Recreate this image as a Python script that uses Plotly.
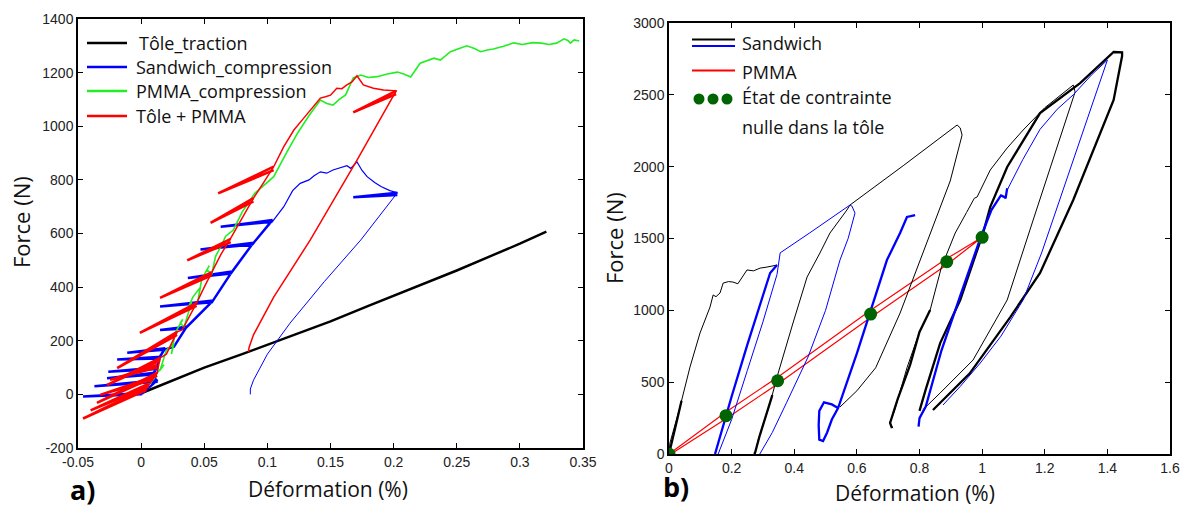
import plotly.graph_objects as go

W, H = 1186, 507

# ---------------- Panel a) data ----------------
tole_x = [0.002, 0.02, 0.05, 0.08, 0.10, 0.13, 0.15, 0.18, 0.20, 0.23, 0.25, 0.28, 0.30, 0.321]
tole_y = [8, 42, 100, 150, 185, 238, 272, 330, 368, 425, 462, 522, 562, 607]

pmma_x = [0.002, 0.006, 0.004, 0.008, 0.012, 0.009, 0.0127, 0.018, 0.015, 0.02, 0.026, 0.024, 0.027,
          0.033, 0.031, 0.034, 0.040, 0.038, 0.041, 0.047, 0.045, 0.048, 0.054, 0.052, 0.056, 0.059,
          0.063, 0.067, 0.073, 0.08, 0.09, 0.105, 0.115, 0.124, 0.133, 0.142, 0.147, 0.152, 0.157,
          0.162, 0.168, 0.174, 0.18, 0.187, 0.195, 0.203, 0.208, 0.2135, 0.221, 0.227, 0.232, 0.237,
          0.245, 0.252, 0.258, 0.264, 0.269, 0.275, 0.279, 0.287, 0.295, 0.302, 0.31, 0.317, 0.323,
          0.329, 0.335, 0.338, 0.340, 0.343, 0.347]
pmma_y = [9, 40, 30, 45, 70, 62, 80, 110, 90, 165, 190, 150, 230,
          280, 266, 250, 345, 330, 363, 400, 350, 430, 480, 464, 450, 515,
          550, 590, 613, 680, 750, 812, 900, 975, 1040, 1098, 1085, 1079, 1100,
          1117, 1180, 1191, 1182, 1185, 1195, 1202, 1195, 1184, 1235, 1245, 1254, 1247,
          1278, 1290, 1300, 1290, 1278, 1285, 1288, 1298, 1311, 1305, 1312, 1310, 1305,
          1310, 1326, 1320, 1310, 1322, 1318]

# Sandwich: unload/reload saw-teeth, then main curve, then unloading
sand_saw_x = [0.002, -0.046, 0.000, 0.013, -0.037, 0.012, 0.010, -0.027, 0.009, 0.013, -0.026, 0.012,
              0.015, -0.019, 0.014, 0.019, -0.011, 0.018, 0.026, 0.036, 0.015, 0.035, 0.057, 0.015,
              0.056, 0.072, 0.037, 0.071, 0.089, 0.047, 0.088, 0.104, 0.063, 0.104]
sand_saw_y = [5, -8, 0, 53, 30, 47, 80, 60, 74, 100, 84, 94,
              140, 130, 134, 172, 155, 166, 178, 252, 240, 246, 350, 328,
              343, 458, 434, 451, 566, 540, 559, 650, 625, 644]
sand_main_x = [0.104, 0.113, 0.120, 0.126, 0.133, 0.137, 0.142, 0.147, 0.152, 0.157, 0.163, 0.166,
               0.171, 0.175, 0.179, 0.185, 0.190, 0.197, 0.203]
sand_main_y = [644, 700, 760, 787, 800, 815, 830, 825, 837, 845, 853, 843,
               867, 835, 812, 790, 775, 760, 752]
sand_wedge_x = [0.203, 0.168, 0.203]
sand_wedge_y = [752, 735, 744]
sand_unload_x = [0.203, 0.174, 0.145, 0.118, 0.100, 0.089, 0.0865, 0.0865]
sand_unload_y = [752, 576, 420, 266, 150, 53, 20, 0]

# Tôle + PMMA: wedges (right end -> left end -> back)
red_wedge_right_x = [0.004, 0.006, 0.0127, 0.0095, 0.0127, 0.015, 0.0285, 0.044, 0.056, 0.071, 0.089, 0.105, 0.202]
red_wedge_right_y = [26, 40, 80, 65, 110, 136, 233, 341, 456, 580, 732, 849, 1132]
red_wedge_left_x = [-0.046, -0.040, -0.035, -0.0325, -0.0246, -0.027, -0.019, -0.001, 0.015, 0.0365, 0.055, 0.061, 0.168]
red_wedge_left_y = [-90, -60, -32, -2, 54, 35, 98, 229, 360, 500, 640, 750, 1052]
red_wedge_back_y = [16, 30, 70, 55, 100, 126, 222, 330, 444, 568, 720, 836, 1120]

red_main_x = [0.003, 0.005, 0.0127, 0.015, 0.02, 0.0285, 0.0325, 0.044, 0.05, 0.056, 0.063, 0.071, 0.08,
              0.089, 0.097, 0.105, 0.113, 0.121, 0.127, 0.132, 0.137, 0.142, 0.146, 0.15, 0.155, 0.159,
              0.163, 0.167, 0.171, 0.176, 0.184, 0.192, 0.202, 0.171, 0.134, 0.105, 0.089, 0.0865, 0.0855, 0.085]
red_main_y = [10, 28, 80, 136, 150, 233, 240, 341, 400, 456, 520, 583, 660,
              732, 790, 849, 924, 986, 1020, 1049, 1075, 1105, 1110, 1116, 1142, 1140,
              1154, 1165, 1188, 1154, 1142, 1135, 1132, 874, 576, 363, 222, 192, 175, 158]

# ---------------- Panel b) data ----------------
b1_x = [0.0, 0.003, 0.035, 0.067, 0.099, 0.131, 0.141, 0.150, 0.163, 0.173, 0.190, 0.204, 0.220, 0.235,
        0.249, 0.270, 0.291, 0.310, 0.330, 0.345]
b1_y = [0, 77, 327, 605, 842, 1023, 1107, 1095, 1121, 1190, 1200, 1197, 1185, 1230,
        1281, 1275, 1294, 1300, 1310, 1315]
b2_x = [0.275, 0.285, 0.323, 0.345, 0.396, 0.441, 0.482, 0.514, 0.568, 0.578, 0.75, 0.92, 0.93, 0.936,
        0.898, 0.81, 0.738, 0.66, 0.600, 0.546]
b2_y = [0, 100, 355, 536, 912, 1232, 1399, 1538, 1698, 1733, 2010, 2290, 2270, 2220,
        1900, 1400, 981, 600, 440, 327]
b3_x = [0.715, 0.705, 0.720, 0.760, 0.800, 0.834, 0.870, 0.914, 0.950, 0.975, 0.984, 1.026, 1.080, 1.131,
        1.200, 1.281, 1.291, 1.297, 1.230, 1.163, 1.080, 0.971, 0.866, 0.810]
b3_y = [180, 216, 300, 600, 850, 1002, 1300, 1538, 1680, 1780, 1789, 1977, 2130, 2255,
        2410, 2554, 2568, 2520, 2080, 1629, 1072, 654, 425, 306]

bt1_x = [0.0, 0.012, 0.025, 0.040]
bt1_y = [0, 120, 230, 370]
bt2_x = [0.272, 0.275, 0.290, 0.310, 0.330]
bt2_y = [0, 10, 130, 270, 410]
bt3_x = [0.712, 0.706, 0.730, 0.770, 0.800, 0.834]
bt3_y = [180, 216, 380, 620, 850, 1002]
bt4_x = [0.800, 0.820, 0.866, 0.930, 1.003, 1.026, 1.080, 1.185, 1.313, 1.400, 1.420, 1.447, 1.447,
         1.420, 1.291, 1.185, 1.090, 0.960, 0.843]
bt4_y = [300, 450, 772, 1072, 1538, 1720, 1998, 2373, 2582, 2756, 2798, 2795, 2770,
         2464, 1768, 1260, 953, 560, 306]

u1_x = [0.157, 0.200, 0.250, 0.300, 0.345, 0.350, 0.355, 0.450, 0.578, 0.584, 0.594, 0.572, 0.546,
        0.500, 0.444, 0.376, 0.330, 0.290]
u1_y = [0, 240, 580, 920, 1250, 1330, 1400, 1540, 1733, 1726, 1677, 1500, 1350,
        1000, 675, 360, 150, 0]
u2_x = [1.080, 1.130, 1.185, 1.240, 1.291, 1.350, 1.400, 1.350, 1.300, 1.249, 1.190, 1.131, 1.060,
        0.994, 0.930, 0.875]
u2_y = [1837, 2050, 2260, 2400, 2500, 2640, 2742, 2420, 2095, 1768, 1400, 1072, 820,
        633, 470, 341]

ut1_x = [0.147, 0.160, 0.200, 0.250, 0.300, 0.323, 0.345]
ut1_y = [0, 100, 400, 760, 1100, 1260, 1315]
ut2_x = [0.540, 0.520, 0.495, 0.480, 0.478, 0.480, 0.492, 0.505, 0.520, 0.540, 0.600, 0.642, 0.696,
         0.738, 0.760, 0.772, 0.786]
ut2_y = [320, 345, 360, 300, 200, 100, 90, 150, 240, 320, 700, 981, 1350,
         1538, 1650, 1655, 1663]
ut3_x = [0.797, 0.800, 0.820, 0.870, 0.930, 0.994, 1.030, 1.060, 1.070, 1.075, 1.080]
ut3_y = [190, 250, 330, 720, 1100, 1500, 1700, 1800, 1790, 1780, 1850]

pr_x = [0.0, 0.182, 0.347, 0.644, 0.887, 1.0, 0.887, 0.644, 0.347, 0.182, 0.01]
pr_y = [0, 292, 535, 1000, 1360, 1508, 1318, 950, 488, 245, 5]

zero_x = [0.0, 0.182, 0.347, 0.644, 0.887, 1.0]
zero_y = [0, 267, 510, 974, 1338, 1508]

# tick labels
a_xticks = [-0.05, 0, 0.05, 0.1, 0.15, 0.2, 0.25, 0.3, 0.35]
a_xtext = ["-0.05", "0", "0.05", "0.1", "0.15", "0.2", "0.25", "0.3", "0.35"]
a_yticks = [-200, 0, 200, 400, 600, 800, 1000, 1200, 1400]
a_ytext = ["-200", "0", "200", "400", "600", "800", "1000", "1200", "1400"]
b_xticks = [0, 0.2, 0.4, 0.6, 0.8, 1.0, 1.2, 1.4, 1.6]
b_xtext = ["0", "0.2", "0.4", "0.6", "0.8", "1", "1.2", "1.4", "1.6"]
b_yticks = [0, 500, 1000, 1500, 2000, 2500, 3000]
b_ytext = ["0", "500", "1000", "1500", "2000", "2500", "3000"]

BLACK, BLUE, GREEN, RED, DKGREEN = "#000000", "#0000FF", "#22EE22", "#FF0000", "#006400"

fig = go.Figure()


def add(x, y, color, width, xa="x", ya="y", name=None):
    fig.add_trace(go.Scatter(x=x, y=y, mode="lines", line=dict(color=color, width=width),
                             xaxis=xa, yaxis=ya, showlegend=False, hoverinfo="skip", name=name))


# Panel a
add(tole_x, tole_y, BLACK, 2.5, name="Tôle_traction")
add(sand_saw_x, sand_saw_y, BLUE, 2.5, name="Sandwich_compression")
add(sand_main_x, sand_main_y, BLUE, 1.2)
add(sand_wedge_x, sand_wedge_y, BLUE, 2.5)
add(sand_unload_x, sand_unload_y, BLUE, 1.0)
add(pmma_x, pmma_y, GREEN, 1.6, name="PMMA_compression")
wx, wy = [], []
for xr, yr, xl, yl, yb in zip(red_wedge_right_x, red_wedge_right_y, red_wedge_left_x,
                              red_wedge_left_y, red_wedge_back_y):
    wx += [xr, xl, xr, None]
    wy += [yr, yl, yb, None]
add(wx, wy, RED, 2.5, name="Tôle + PMMA")
add(red_main_x, red_main_y, RED, 1.5)

# Panel b
add(pr_x, pr_y, RED, 1.2, "x2", "y2", name="PMMA")
add(b1_x, b1_y, BLACK, 1.0, "x2", "y2", name="Sandwich")
add(b2_x, b2_y, BLACK, 1.0, "x2", "y2")
add(b3_x, b3_y, BLACK, 1.0, "x2", "y2")
for bx, by in [(bt1_x, bt1_y), (bt2_x, bt2_y), (bt3_x, bt3_y), (bt4_x, bt4_y)]:
    add(bx, by, BLACK, 2.3, "x2", "y2")
add(u1_x, u1_y, BLUE, 1.0, "x2", "y2")
add(u2_x, u2_y, BLUE, 1.0, "x2", "y2")
for ux, uy in [(ut1_x, ut1_y), (ut2_x, ut2_y), (ut3_x, ut3_y)]:
    add(ux, uy, BLUE, 2.3, "x2", "y2")
fig.add_trace(go.Scatter(x=zero_x, y=zero_y, mode="markers", xaxis="x2", yaxis="y2",
                         marker=dict(color=DKGREEN, size=13), showlegend=False, hoverinfo="skip",
                         name="État de contrainte nulle dans la tôle"))

tickfont = dict(family="Liberation Sans, Arial", size=14, color="#222222")
axcommon = dict(showline=True, mirror="ticks", ticks="inside", ticklen=5, tickwidth=1,
                linecolor="black", linewidth=1.5, tickcolor="black", showgrid=False,
                zeroline=False, tickfont=tickfont, tickmode="array", automargin=False)

fig.update_layout(
    width=W, height=H, margin=dict(l=0, r=0, t=0, b=0, autoexpand=False),
    paper_bgcolor="white", plot_bgcolor="white", showlegend=False,
    xaxis=dict(domain=[78 / W, 583 / W], range=[-0.05, 0.35], anchor="y",
               tickvals=a_xticks, ticktext=a_xtext, **axcommon),
    yaxis=dict(domain=[1 - 448 / H, 1 - 19 / H], range=[-200, 1400], anchor="x",
               tickvals=a_yticks, ticktext=a_ytext, **axcommon),
    xaxis2=dict(domain=[669 / W, 1170 / W], range=[0, 1.6], anchor="y2",
                tickvals=b_xticks, ticktext=b_xtext, **axcommon),
    yaxis2=dict(domain=[1 - 454 / H, 1 - 23 / H], range=[0, 3000], anchor="x2",
                tickvals=b_yticks, ticktext=b_ytext, **axcommon),
)

TXT = "Open Sans"
shapes, annots = [], []


def pline(x0, x1, y, color, width):
    shapes.append(dict(type="line", xref="paper", yref="paper", x0=x0 / W, x1=x1 / W,
                       y0=1 - y / H, y1=1 - y / H, line=dict(color=color, width=width)))


def ptext(x, y, text, size, anchor="left", angle=0, bold=False, color="#111111"):
    t = f"<b>{text}</b>" if bold else text
    annots.append(dict(x=x / W, y=1 - y / H, xref="paper", yref="paper", text=t, showarrow=False,
                       xanchor=anchor, yanchor="middle", textangle=angle, borderpad=0,
                       font=dict(family=TXT, size=size, color=color)))


# Legend a)
for yy, col, lab in [(43, BLACK, "Tôle_traction"), (67, BLUE, "Sandwich_compression"),
                     (91, GREEN, "PMMA_compression"), (116, RED, "Tôle + PMMA")]:
    pline(87, 127, yy, col, 2.5)
    ptext(135 if lab != "Tôle_traction" else 138, yy, lab, 18)

# Legend b)
pline(692, 735, 39.5, BLACK, 2.2)
pline(692, 735, 46, BLUE, 2.2)
ptext(741, 43, "Sandwich", 18)
pline(692, 735, 70.5, RED, 2.2)
ptext(741, 72, "PMMA", 18)
for cx in [699, 713, 727]:
    shapes.append(dict(type="circle", xref="paper", yref="paper", x0=(cx - 5.5) / W, x1=(cx + 5.5) / W,
                       y0=1 - (99 + 5.5) / H, y1=1 - (99 - 5.5) / H,
                       fillcolor=DKGREEN, line=dict(color=DKGREEN, width=0)))
ptext(741, 97, "État de contrainte", 18)
ptext(741, 127, "nulle dans la tôle", 18)

# Axis titles
ptext(21, 222, "Force (N)", 22, anchor="center", angle=-90)
ptext(614, 238, "Force (N)", 22, anchor="center", angle=-90)
ptext(328, 489, "Déformation (%)", 21, anchor="center")
ptext(915, 493, "Déformation (%)", 21, anchor="center")
ptext(82, 489, "a)", 27, anchor="center", bold=True, color="#000000")
ptext(676, 486, "b)", 27, anchor="center", bold=True, color="#000000")

fig.update_layout(shapes=shapes, annotations=annots)

fig.write_html("out.html", config={"displayModeBar": False},
               post_script="document.body.style.margin='0';")
